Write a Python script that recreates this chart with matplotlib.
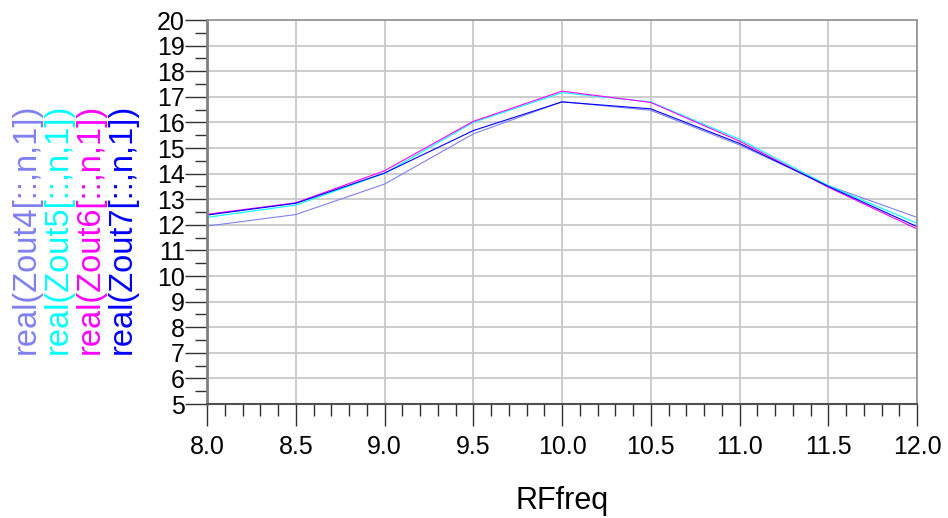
import numpy as np
import matplotlib
matplotlib.use("Agg")
import matplotlib.pyplot as plt
from matplotlib.ticker import MultipleLocator, FormatStrFormatter

# =========================
# Data
# =========================
rf_freq = [8.0, 8.5, 9.0, 9.5, 10.0, 10.5, 11.0, 11.5, 12.0]

zout4 = [11.95, 12.40, 13.59, 15.55, 16.81, 16.47, 15.12, 13.53, 12.29]
zout5 = [12.29, 12.77, 14.01, 16.00, 17.16, 16.80, 15.34, 13.53, 12.06]
zout6 = [12.41, 12.86, 14.11, 16.04, 17.22, 16.78, 15.27, 13.47, 11.84]
zout7 = [12.38, 12.84, 14.02, 15.68, 16.80, 16.53, 15.18, 13.50, 11.93]

series_labels = [
    "real(Zout4[::,n,1])",
    "real(Zout5[::,n,1])",
    "real(Zout6[::,n,1])",
    "real(Zout7[::,n,1])",
]
series_colors = ["#8080F0", "#00FFFF", "#FF00FF", "#0000FF"]

plt.rcParams["font.family"] = ["Liberation Sans", "DejaVu Sans"]

# =========================
# Figure
# =========================
fig = plt.figure(figsize=(9.48, 5.18), dpi=100)
ax = fig.add_axes([207 / 948, 1 - 404 / 518, 710 / 948, 384 / 518])

for vals, col in zip([zout4, zout5, zout6, zout7], series_colors):
    ax.plot(rf_freq, vals, color=col, linewidth=0.8)

ax.set_xlim(8.0, 12.0)
ax.set_ylim(5, 20)

ax.xaxis.set_major_locator(MultipleLocator(0.5))
ax.xaxis.set_minor_locator(MultipleLocator(0.1))
ax.xaxis.set_major_formatter(FormatStrFormatter("%.1f"))
ax.yaxis.set_major_locator(MultipleLocator(1))
ax.yaxis.set_minor_locator(MultipleLocator(0.5))

ax.grid(True, which="major", color="#C8C8C8", linewidth=1.3)
ax.set_axisbelow(True)

ax.tick_params(axis="both", which="major", length=16, width=1.0,
               color="#303030", labelsize=18, direction="out")
ax.tick_params(axis="both", which="minor", length=8.5, width=1.0,
               color="#303030", direction="out")
ax.tick_params(axis="y", which="major", pad=0)
ax.tick_params(axis="x", which="major", pad=6)

for side in ["top", "right"]:
    ax.spines[side].set_color("#909090")
    ax.spines[side].set_linewidth(1.2)
ax.spines["left"].set_color("#808080")
ax.spines["left"].set_linewidth(2.0)
ax.spines["bottom"].set_color("#505050")
ax.spines["bottom"].set_linewidth(1.5)

ax.set_xlabel("RFfreq", fontsize=22, labelpad=20)

# Rotated legend texts on the left
legend_x = [26, 58, 90, 122]
for xp, lab, col in zip(legend_x, series_labels, series_colors):
    fig.text(xp / 948, 1 - 354 / 518, lab, rotation=90, color=col,
             fontsize=23.5, ha="center", va="bottom")

fig.savefig("out.png", dpi=100)
